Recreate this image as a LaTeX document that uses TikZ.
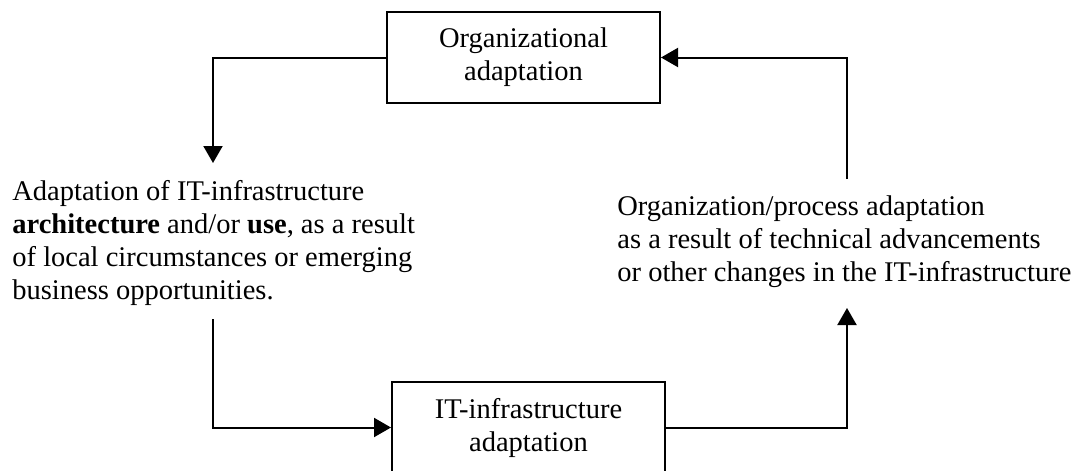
\documentclass[tikz,border=0pt]{standalone}
\usepackage{fontspec}
\setmainfont{Liberation Serif}
\usetikzlibrary{arrows.meta}
\begin{document}
\begin{tikzpicture}[x=0.5pt,y=-0.5pt,
        font=\fontsize{14.25}{16.5}\selectfont,
        adbox/.style={draw,line width=1pt,inner sep=0pt,minimum width=136.5pt,minimum height=45.5pt,align=center},
        note/.style={anchor=base west,align=left,inner sep=0pt},
        flow/.style={line width=1pt,-{Triangle[length=8.5pt,width=9.5pt]}}]
    \useasboundingbox (0,0) rectangle (1083,471);
    \node[adbox] (orgbox) at (523.5,57.5) {Organizational\\adaptation};
    \node[adbox] (itbox) at (528.5,427.5) {IT-infrastructure\\adaptation};
    \node[note] (leftnote) at (12,299) {Adaptation of IT-infrastructure\\\textbf{architecture} and/or \textbf{use}, as a result\\of local circumstances or emerging\\business opportunities.};%base = dòng cuối
    \node[note] (rightnote) at (617,281) {Organization/process adaptation\\as a result of technical advancements\\or other changes in the IT-infrastructure};
    \path (213,163) coordinate (ltip) (213,319) coordinate (lfoot)
          (847,308) coordinate (rtip) (847,179) coordinate (rfoot);%đầu và chân mũi tên
    \draw[flow] (orgbox.west) -| (ltip);
    \draw[flow] (lfoot) |- (itbox.west);
    \draw[flow] (itbox.east) -| (rtip);
    \draw[flow] (rfoot) |- (orgbox.east);
\end{tikzpicture}
\end{document}
